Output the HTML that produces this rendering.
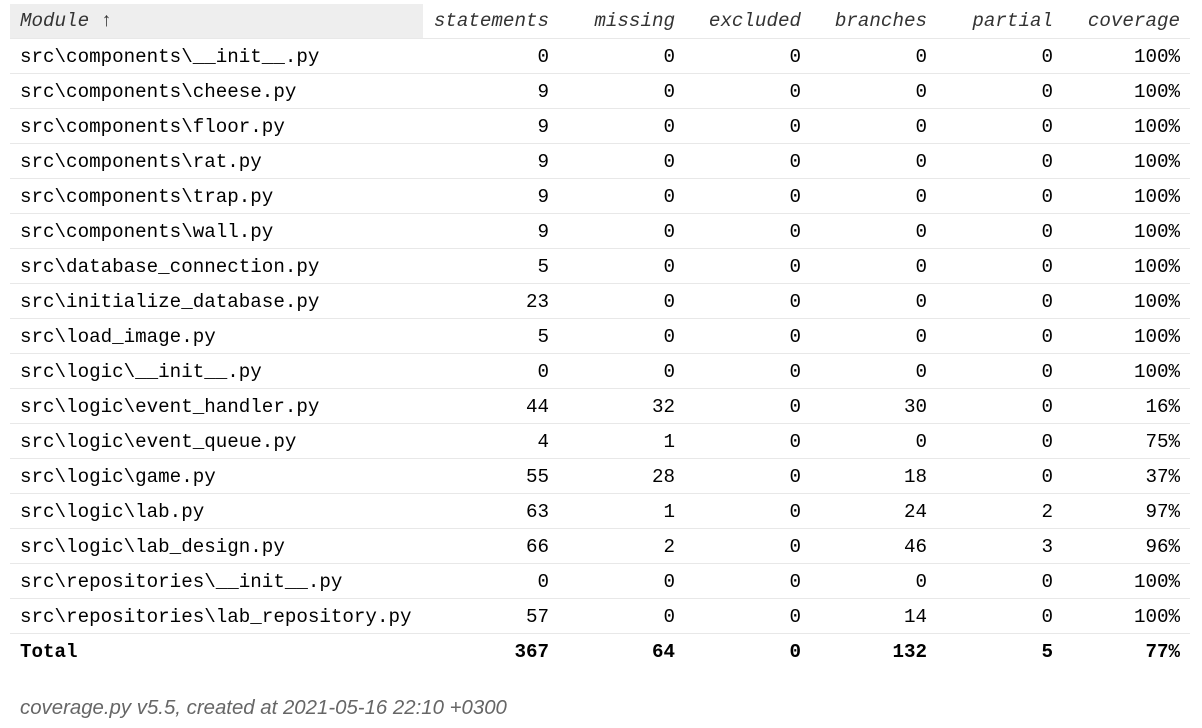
<!DOCTYPE html>
<html><head><meta charset="utf-8"><style>
body{margin:0;width:1202px;height:728px;background:#fff;position:relative;overflow:hidden;font-family:"Liberation Mono",monospace;}
.c{position:absolute;font-size:19.2px;line-height:35px;height:35px;color:#000;white-space:pre}
.r{text-align:right}
.h{font-style:italic;color:#333}
.line{position:absolute;left:10px;width:1180px;height:1px;background:#e8e8e8}
#foot{position:absolute;left:20px;top:697px;font-family:"Liberation Sans",sans-serif;font-style:italic;font-size:20.4px;color:#666}
</style></head><body>
<div style="position:absolute;left:10px;top:4px;width:413px;height:34px;background:#eee"></div>
<div id="t"></div>
<div id="foot">coverage.py v5.5, created at 2021-05-16 22:10 +0300</div>
<script>
const headers=["Module ↑","statements","missing","excluded","branches","partial","coverage"];
const modules=["src\\components\\__init__.py","src\\components\\cheese.py","src\\components\\floor.py","src\\components\\rat.py","src\\components\\trap.py","src\\components\\wall.py","src\\database_connection.py","src\\initialize_database.py","src\\load_image.py","src\\logic\\__init__.py","src\\logic\\event_handler.py","src\\logic\\event_queue.py","src\\logic\\game.py","src\\logic\\lab.py","src\\logic\\lab_design.py","src\\repositories\\__init__.py","src\\repositories\\lab_repository.py","Total"];
const statements=[0,9,9,9,9,9,5,23,5,0,44,4,55,63,66,0,57,367];
const missing=[0,0,0,0,0,0,0,0,0,0,32,1,28,1,2,0,0,64];
const excluded=[0,0,0,0,0,0,0,0,0,0,0,0,0,0,0,0,0,0];
const branches=[0,0,0,0,0,0,0,0,0,0,30,0,18,24,46,0,14,132];
const partial=[0,0,0,0,0,0,0,0,0,0,0,0,0,2,3,0,0,5];
const coverage=["100%","100%","100%","100%","100%","100%","100%","100%","100%","100%","16%","75%","37%","97%","96%","100%","100%","77%"];
const rights=[549,675,801,927,1053,1180];
const t=document.getElementById('t');
function cell(txt,top,x,right,cls,name,bold){
  const d=document.createElement('div');
  d.className='c '+cls;
  d.textContent=txt;
  d.style.top=top+'px';
  if(bold)d.style.fontWeight='bold';
  if(right){d.style.right=(1202-x)+'px';}else{d.style.left=x+'px';}
  
  
  t.appendChild(d);
}
headers.forEach((h,i)=>{
  const d=document.createElement('div');
  d.className='c h';
  d.textContent=h;d.style.top='4px';
  if(i==0)d.style.left='20px';else d.style.right=(1202-rights[i-1])+'px';
  
  
  d.style.cursor='pointer';
  t.appendChild(d);
});
const cols=[statements,missing,excluded,branches,partial,coverage];
modules.forEach((m,i)=>{
  const top=40+35*i;
  const total=i==modules.length-1;
  const ln=document.createElement('div');
  ln.className='line';ln.style.top=(38+35*i)+'px';
  
  
  t.appendChild(ln);
  cell(m,top,20,false,'',total?'total-label':'module-name',total);
  cols.forEach((arr,j)=>cell(String(arr[i]),top,rights[j],true,'r','value-cell',total));
});
</script>
</body></html>
